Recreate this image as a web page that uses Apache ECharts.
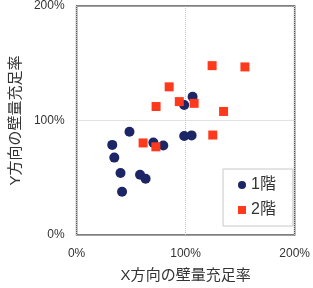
<!DOCTYPE html>
<html>
<head>
<meta charset="utf-8">
<script src="https://cdn.jsdelivr.net/npm/echarts@6/dist/echarts.min.js"></script>
<style>
  html, body { margin: 0; padding: 0; background: #fff; }
  #chart { width: 313px; height: 288px; }
</style>
</head>
<body>
<div id="chart"></div>
<script>
// 1階 (navy circles)
const floor1X = [32.7, 34.6, 40.3, 41.7, 48.5, 58.2, 63.3, 70.4, 79.5, 98.7, 106.4, 98.7, 105.5];
const floor1Y = [78.7, 67.6, 54.1, 37.8, 90.1, 52.6, 49.2, 80.7, 78.1, 113.6, 120.8, 86.4, 87.0];
// 2階 (red squares)
const floor2X = [61.0, 72.7, 72.9, 84.9, 94.2, 107.8, 124.3, 154.4, 134.8, 124.9];
const floor2Y = [80.4, 77.0, 112.2, 129.4, 116.5, 115.0, 147.9, 146.8, 107.9, 87.3];

const seriesNames = ["1階", "2階"];
const xName = "X方向の壁量充足率";
const yName = "Y方向の壁量充足率";

const font = "'Liberation Sans', 'Noto Sans CJK JP', sans-serif";

function pairs(xs, ys) {
  return xs.map((x, i) => [x, ys[i]]);
}

const myChart = echarts.init(document.getElementById("chart"));
myChart.setOption({
  animation: false,
  textStyle: { fontFamily: font },
  grid: {
    left: 63, top: 6, width: 235, height: 233,
    show: true, borderColor: "#555", borderWidth: 1.5
  },
  legend: {
    orient: "vertical",
    left: 223, top: 169,
    padding: [8, 17, 8, 15],
    itemGap: 9,
    itemWidth: 8, itemHeight: 8,
    backgroundColor: "#fff",
    borderColor: "#c8c8c8", borderWidth: 1,
    textStyle: { fontSize: 16, color: "#333", fontFamily: font },
    data: [
      { name: seriesNames[0], icon: "circle" },
      { name: seriesNames[1], icon: "rect" }
    ]
  },
  xAxis: {
    type: "value", min: 0, max: 200, interval: 100,
    name: xName, nameLocation: "middle", nameGap: 33,
    nameTextStyle: { fontSize: 15, color: "#333" },
    axisLine: { show: false },
    axisTick: { show: false },
    axisLabel: { formatter: "{value}%", fontSize: 12, color: "#333", margin: 13, showMaxLabel: true },
    splitLine: { lineStyle: { color: "#c4c4c4", type: "dotted" } }
  },
  yAxis: {
    type: "value", min: 0, max: 200, interval: 100,
    name: yName, nameLocation: "middle", nameGap: 45,
    nameTextStyle: { fontSize: 15, color: "#333" },
    axisLine: { show: false },
    axisTick: { show: false },
    axisLabel: { formatter: "{value}%", fontSize: 12, color: "#333", margin: 12 },
    splitLine: { lineStyle: { color: "#c4c4c4", type: "dotted" } }
  },
  series: [
    {
      name: seriesNames[0], type: "scatter", symbol: "circle", symbolSize: 10,
      itemStyle: { color: "#1c2566", opacity: 1 },
      data: pairs(floor1X, floor1Y)
    },
    {
      name: seriesNames[1], type: "scatter", symbol: "rect", symbolSize: 9,
      itemStyle: { color: "#ff3a1c", opacity: 1 },
      data: pairs(floor2X, floor2Y)
    }
  ]
});
</script>
</body>
</html>
